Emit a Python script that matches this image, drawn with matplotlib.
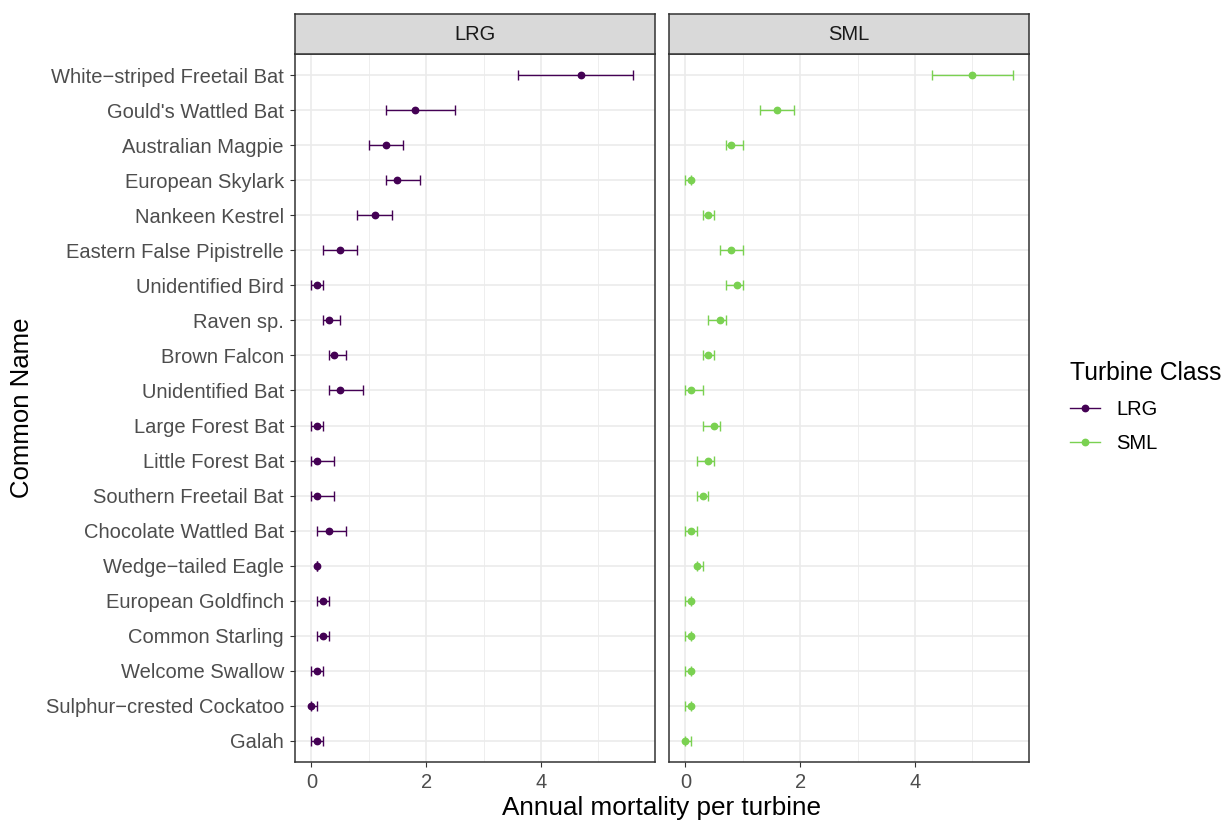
import matplotlib
matplotlib.use("Agg")
import matplotlib.pyplot as plt
from matplotlib.lines import Line2D
import numpy as np

plt.rcParams['font.family'] = ['Liberation Sans', 'DejaVu Sans']

# species, top to bottom
species = [
    "White\u2212striped Freetail Bat", "Gould's Wattled Bat", "Australian Magpie",
    "European Skylark", "Nankeen Kestrel", "Eastern False Pipistrelle",
    "Unidentified Bird", "Raven sp.", "Brown Falcon", "Unidentified Bat",
    "Large Forest Bat", "Little Forest Bat", "Southern Freetail Bat",
    "Chocolate Wattled Bat", "Wedge\u2212tailed Eagle", "European Goldfinch",
    "Common Starling", "Welcome Swallow", "Sulphur\u2212crested Cockatoo", "Galah",
]

# large turbines: estimate, lower, upper
lrg_est = [4.7, 1.8, 1.3, 1.5, 1.1, 0.5, 0.1, 0.3, 0.4, 0.5,
           0.1, 0.1, 0.1, 0.3, 0.1, 0.2, 0.2, 0.1, 0.0, 0.1]
lrg_lo = [3.6, 1.3, 1.0, 1.3, 0.8, 0.2, 0.0, 0.2, 0.3, 0.3,
          0.0, 0.0, 0.0, 0.1, 0.1, 0.1, 0.1, 0.0, 0.0, 0.0]
lrg_hi = [5.6, 2.5, 1.6, 1.9, 1.4, 0.8, 0.2, 0.5, 0.6, 0.9,
          0.2, 0.4, 0.4, 0.6, 0.1, 0.3, 0.3, 0.2, 0.1, 0.2]

# small turbines: estimate, lower, upper
sml_est = [5.0, 1.6, 0.8, 0.1, 0.4, 0.8, 0.9, 0.6, 0.4, 0.1,
           0.5, 0.4, 0.3, 0.1, 0.2, 0.1, 0.1, 0.1, 0.1, 0.0]
sml_lo = [4.3, 1.3, 0.7, 0.0, 0.3, 0.6, 0.7, 0.4, 0.3, 0.0,
          0.3, 0.2, 0.2, 0.0, 0.2, 0.0, 0.0, 0.0, 0.0, 0.0]
sml_hi = [5.7, 1.9, 1.0, 0.1, 0.5, 1.0, 1.0, 0.7, 0.5, 0.3,
          0.6, 0.5, 0.4, 0.2, 0.3, 0.1, 0.1, 0.1, 0.1, 0.1]

classes = ["LRG", "SML"]
colors = {"LRG": "#440154", "SML": "#7AD151"}

W, H = 1229, 822
fig = plt.figure(figsize=(W / 100, H / 100), dpi=100)


def box(x0, y0, x1, y1):
    # pixel box (top-left origin) -> figure fraction rect
    return [x0 / W, 1 - y1 / H, (x1 - x0) / W, (y1 - y0) / H]


panels = {"LRG": (295, 655), "SML": (669, 1029)}
top, bottom, strip_top = 54, 762, 14
n = len(species)
ypos = np.arange(n)[::-1]
xmax = max(max(lrg_hi), max(sml_hi))
pad = 0.05 * xmax

series = {"LRG": (lrg_est, lrg_lo, lrg_hi), "SML": (sml_est, sml_lo, sml_hi)}

for i, cls in enumerate(classes):
    x0, x1 = panels[cls]
    ax = fig.add_axes(box(x0, top, x1, bottom))
    est, lo, hi = (np.array(v) for v in series[cls])
    ax.errorbar(est, ypos, xerr=[est - lo, hi - est], fmt='o', color=colors[cls],
                ms=4.6, elinewidth=1.0, capsize=3.6, capthick=1.0, zorder=3)
    ax.set_xlim(-pad, xmax + pad)
    ax.set_ylim(-0.6, n - 0.4)
    ax.set_xticks([0, 2, 4])
    ax.set_xticks([1, 3, 5], minor=True)
    ax.set_yticks(ypos)
    ax.grid(True, which='major', color='#EBEBEB', lw=1.2, zorder=0)
    ax.grid(True, which='minor', axis='x', color='#EBEBEB', lw=0.6, zorder=0)
    ax.set_axisbelow(True)
    ax.tick_params(axis='both', which='major', length=3.5, width=0.8, color='#333333',
                   labelsize=14.5, labelcolor='#4D4D4D', pad=4.5)
    ax.tick_params(axis='x', which='minor', length=0)
    if i == 0:
        ax.set_yticklabels(species)
    else:
        ax.tick_params(axis='y', length=0, labelleft=False)
    for s in ax.spines.values():
        s.set_color('#333333')
        s.set_linewidth(1.1)

    sx = fig.add_axes(box(x0, strip_top, x1, top))
    sx.set_facecolor('#D9D9D9')
    sx.set_xticks([])
    sx.set_yticks([])
    for s in sx.spines.values():
        s.set_color('#333333')
        s.set_linewidth(1.1)
    sx.text(0.5, 0.5, cls, ha='center', va='center', fontsize=14.5, color='#1A1A1A',
            transform=sx.transAxes)

fig.text(662 / W, 1 - 808 / H, "Annual mortality per turbine", ha='center', va='center',
         fontsize=18.8)
fig.text(22 / W, 1 - 408 / H, "Common Name", ha='center', va='center', rotation=90,
         fontsize=18.5)

handles = [Line2D([0], [0], color=colors[c], marker='o', ms=4.6, lw=1.0) for c in classes]
leg = fig.legend(handles, classes, loc='upper left', bbox_to_anchor=(1052 / W, 1 - 343 / H),
                 frameon=False, title="Turbine Class", title_fontsize=17.8, fontsize=14.5,
                 handlelength=1.5, handletextpad=0.8, labelspacing=0.75, alignment='left')

fig.savefig("out.png", dpi=100)
